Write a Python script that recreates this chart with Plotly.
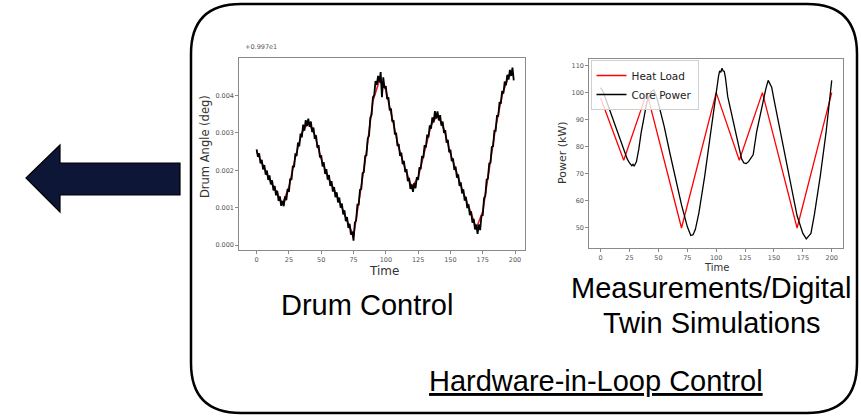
import plotly.graph_objects as go

W, H = 861, 420

# ---------------- data ----------------
# Drum control (angle offset from 9.97 deg, in units of 0.001 deg)
drum_time = list(range(200))
drum_angle = [
    2.56, 2.36, 2.45, 2.18, 2.28, 2.02, 2.14, 1.88, 1.99, 1.74,
    1.86, 1.62, 1.73, 1.46, 1.58, 1.33, 1.45, 1.18, 1.30, 1.05,
    1.18, 1.04, 1.30, 1.20, 1.50, 1.42, 1.78, 1.74, 2.12, 2.08,
    2.45, 2.38, 2.74, 2.64, 2.98, 2.88, 3.22, 3.06, 3.34, 3.18,
    3.38, 3.16, 3.30, 3.02, 3.14, 2.84, 2.93, 2.60, 2.67, 2.34,
    2.40, 2.10, 2.21, 1.90, 2.03, 1.75, 1.87, 1.58, 1.71, 1.43,
    1.55, 1.28, 1.41, 1.14, 1.27, 1.00, 1.11, 0.82, 0.93, 0.64,
    0.75, 0.46, 0.57, 0.28, 0.36, 0.12, 0.60, 0.66, 1.08, 1.08,
    1.48, 1.50, 1.92, 1.95, 2.38, 2.40, 2.85, 2.92, 3.40, 3.48,
    3.95, 4.00, 4.38, 4.28, 4.52, 4.35, 4.62, 3.95, 4.48, 4.20,
    4.25, 3.90, 3.95, 3.60, 3.65, 3.30, 3.33, 2.96, 3.00, 2.65,
    2.70, 2.38, 2.47, 2.16, 2.25, 1.95, 2.03, 1.71, 1.80, 1.50,
    1.62, 1.42, 1.65, 1.52, 1.82, 1.74, 2.08, 2.03, 2.38, 2.33,
    2.67, 2.61, 2.95, 2.88, 3.20, 3.11, 3.41, 3.28, 3.58, 3.38,
    3.57, 3.33, 3.47, 3.19, 3.30, 3.00, 3.07, 2.74, 2.81, 2.48,
    2.55, 2.24, 2.32, 2.01, 2.10, 1.80, 1.89, 1.58, 1.68, 1.38,
    1.49, 1.19, 1.29, 0.99, 1.09, 0.80, 0.90, 0.60, 0.70, 0.42,
    0.55, 0.30, 0.55, 0.40, 0.78, 0.80, 1.25, 1.32, 1.75, 1.78,
    2.18, 2.20, 2.62, 2.64, 3.05, 3.05, 3.45, 3.45, 3.82, 3.78,
    4.12, 4.05, 4.37, 4.27, 4.55, 4.42, 4.68, 4.52, 4.74, 4.40,
]
drum_ref_time = [0, 5, 10, 15, 20, 25, 30, 35, 40, 45, 50, 55, 60, 65, 70, 75, 80,
                 85, 90, 95, 100, 105, 110, 115, 120, 125, 130, 135, 140, 145, 150,
                 155, 160, 165, 170, 175, 180, 185, 190, 195, 199]
drum_ref = [2.50, 2.10, 1.75, 1.45, 1.10, 1.55, 2.35, 3.00, 3.28, 2.95, 2.30, 1.85,
            1.45, 1.10, 0.65, 0.25, 1.35, 2.50, 3.85, 4.40, 4.15, 3.40, 2.60, 2.05,
            1.55, 1.80, 2.50, 3.20, 3.48, 3.10, 2.45, 1.90, 1.40, 0.95, 0.45, 0.90,
            2.05, 3.15, 4.00, 4.52, 4.55]
drum_yticks = [0, 1, 2, 3, 4]
drum_yticktext = ["0.000", "0.001", "0.002", "0.003", "0.004"]
time_ticks = [0, 25, 50, 75, 100, 125, 150, 175, 200]

# Power: heat load vs core power (kW)
heat_time = [0, 20, 40, 70, 100, 120, 140, 170, 200]
heat_load = [98, 75, 100, 50, 100, 75, 100, 50, 100]
core_time = [0, 2, 5, 10, 15, 20, 23, 25, 27, 28, 29, 31, 33, 35, 38, 40, 42, 44, 46,
             48, 50, 55, 60, 65, 70, 75, 77, 78, 80, 82, 85, 90, 95, 100, 102, 103,
             104, 105, 106, 107, 108, 110, 115, 120, 122, 124, 126, 128, 130, 132,
             135, 140, 143, 145, 146, 148, 150, 155, 160, 165, 170, 175, 177, 178,
             180, 182, 185, 190, 195, 200]
core_power = [101.8, 100.5, 97.0, 91.0, 85.0, 79.0, 75.5, 74.0, 73.0, 73.5, 72.8,
              74.5, 79.0, 85.0, 92.0, 96.5, 98.5, 100.5, 101.0, 99.0, 96.0, 87.5,
              77.5, 68.0, 58.5, 50.5, 48.0, 47.2, 47.5, 49.5, 55.5, 69.0, 84.5,
              100.5, 106.0, 108.0, 107.5, 109.0, 108.0, 107.8, 105.5, 98.5, 88.5,
              79.0, 75.5, 74.0, 73.8, 74.5, 76.0, 77.0, 85.5, 96.0, 101.5, 104.5,
              103.5, 102.0, 97.5, 86.5, 75.5, 64.5, 54.5, 48.0, 46.5, 46.0, 47.0,
              48.0, 55.0, 69.0, 85.0, 104.5]
power_ticks = [50, 60, 70, 80, 90, 100, 110]

# ---------------- helpers ----------------
def px(x):
    return x / W


def py(y):
    return 1 - y / H


MPL = "DejaVu Sans"
ARIAL = "Liberation Sans, Arial"

fig = go.Figure()

# left chart
fig.add_trace(go.Scatter(x=drum_ref_time, y=drum_ref, mode="lines",
                         line=dict(color="#e8202a", width=1.6), showlegend=False,
                         xaxis="x", yaxis="y"))
fig.add_trace(go.Scatter(x=drum_time, y=drum_angle, mode="lines",
                         line=dict(color="#000000", width=1.8), showlegend=False,
                         xaxis="x", yaxis="y"))
# right chart
fig.add_trace(go.Scatter(x=heat_time, y=heat_load, mode="lines", name="Heat Load",
                         line=dict(color="#ff0000", width=1.3), xaxis="x2", yaxis="y2"))
fig.add_trace(go.Scatter(x=core_time, y=core_power, mode="lines", name="Core Power",
                         line=dict(color="#000000", width=1.3), xaxis="x2", yaxis="y2"))

axis_common = dict(showline=True, mirror=True, linecolor="#8a8a8a", linewidth=1,
                   ticks="outside", ticklen=3, tickcolor="#8a8a8a", showgrid=False,
                   zeroline=False, tickfont=dict(family=MPL, size=6.5, color="#555"))

fig.update_layout(
    width=W, height=H, margin=dict(l=0, r=0, t=0, b=0),
    paper_bgcolor="white", plot_bgcolor="white",
    xaxis=dict(domain=[px(239.3), px(525)], range=[-13.4, 207.7], tickvals=time_ticks,
               anchor="y", **axis_common),
    yaxis=dict(domain=[py(250), py(58.3)], range=[-0.13, 4.99], tickvals=drum_yticks,
               ticktext=drum_yticktext, anchor="x", **axis_common),
    xaxis2=dict(domain=[px(589.3), px(843.3)], range=[-9.8, 210], tickvals=time_ticks,
                anchor="y2", **axis_common),
    yaxis2=dict(domain=[py(248), py(59.3)], range=[42.6, 112.3], tickvals=power_ticks,
                anchor="x2", **axis_common),
    legend=dict(x=px(590.5), y=py(60), xanchor="left", yanchor="top",
                bgcolor="rgba(255,255,255,0.8)", bordercolor="#d0d0d0", borderwidth=1,
                font=dict(family=MPL, size=10.5, color="#222")),
)

# rounded outer box
L, R, T, B, r = 191, 857, 4, 413, 50
path = (f"M {px(L + r)},{py(T)} L {px(R - r)},{py(T)} "
        f"Q {px(R)},{py(T)} {px(R)},{py(T + r)} L {px(R)},{py(B - r)} "
        f"Q {px(R)},{py(B)} {px(R - r)},{py(B)} L {px(L + r)},{py(B)} "
        f"Q {px(L)},{py(B)} {px(L)},{py(B - r)} L {px(L)},{py(T + r)} "
        f"Q {px(L)},{py(T)} {px(L + r)},{py(T)} Z")
fig.add_shape(type="path", path=path, xref="paper", yref="paper",
              line=dict(color="black", width=2.5), layer="below")

# arrow
arrow_pts = [(26, 178), (60, 145), (60, 163), (180, 163), (180, 195), (60, 195), (60, 212)]
apath = "M " + " L ".join(f"{px(a)},{py(b)}" for a, b in arrow_pts) + " Z"
fig.add_shape(type="path", path=apath, xref="paper", yref="paper",
              fillcolor="#0d1636", line=dict(color="#000000", width=1.2))

# annotations
def ann(text, x, y, size, family=MPL, color="black", angle=0, xanchor="center"):
    fig.add_annotation(text=text, x=px(x), y=py(y), xref="paper", yref="paper",
                       showarrow=False, xanchor=xanchor, yanchor="middle",
                       textangle=angle, font=dict(family=family, size=size, color=color))


ann("+0.997e1", 243, 47, 6.5, color="#555", xanchor="left")
ann("Drum Angle (deg)", 205, 147, 11.5, color="#333", angle=-90)
ann("Time", 384, 271, 12, color="#333")
ann("Power (kW)", 562, 153, 11, color="#333", angle=-90)
ann("Time", 716, 267, 10, color="#333")

ann("Drum Control", 367, 305, 29, family=ARIAL)
ann("Measurements/Digital", 711, 288, 29, family=ARIAL)
ann("Twin Simulations", 712, 323, 29, family=ARIAL)
ann("<u>Hardware-in-Loop Control</u>", 596, 381, 29, family=ARIAL)

fig.write_html("out.html")
